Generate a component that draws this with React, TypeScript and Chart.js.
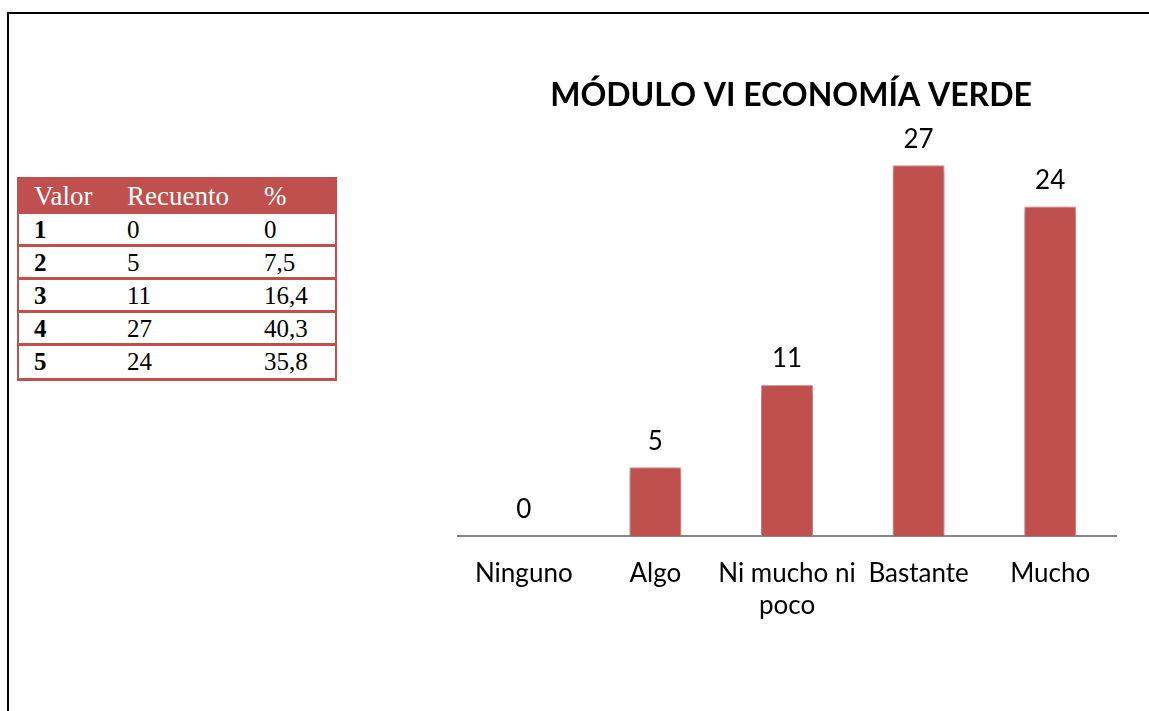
import React, { useEffect, useRef } from "react";
import { Chart, registerables } from "chart.js";

Chart.register(...registerables);

const chartTitle = "MÓDULO VI ECONOMÍA VERDE";
const categories: (string | string[])[] = ["Ninguno", "Algo", ["Ni mucho ni", "poco"], "Bastante", "Mucho"];
const counts = [0, 5, 11, 27, 24];

const tableHeader = ["Valor", "Recuento", "%"];
const tableValues = ["1", "2", "3", "4", "5"];
const tableCounts = ["0", "5", "11", "27", "24"];
const tablePercents = ["0", "7,5", "16,4", "40,3", "35,8"];

const RED = "#C0504D";
const CHART_FONT = "Lato";

const shadowPlugin = {
  id: "barShadow",
  beforeDatasetsDraw(chart: any) {
    const ctx = chart.ctx;
    ctx.save();
    ctx.shadowColor = "rgba(0,0,0,0.45)";
    ctx.shadowBlur = 9;
    ctx.shadowOffsetX = 0;
    ctx.shadowOffsetY = 3;
  },
  afterDatasetsDraw(chart: any) {
    chart.ctx.restore();
  },
};

const labelPlugin = {
  id: "valueLabels",
  afterDraw(chart: any) {
    const ctx = chart.ctx;
    const meta = chart.getDatasetMeta(0);
    ctx.save();
    ctx.fillStyle = "#000";
    ctx.font = `26px ${CHART_FONT}`;
    ctx.textAlign = "center";
    ctx.textBaseline = "middle";
    meta.data.forEach((bar: any, i: number) => {
      const v = chart.data.datasets[0].data[i];
      ctx.fillText(String(v), bar.x, bar.y - 26);
    });
    const area = chart.chartArea;
    ctx.font = `bold 32px ${CHART_FONT}`;
    ctx.textBaseline = "alphabetic";
    ctx.fillText(chartTitle, (area.left + area.right) / 2 + 4, 106);
    ctx.restore();
  },
};

function BarChart() {
  const ref = useRef<HTMLCanvasElement | null>(null);
  useEffect(() => {
    if (!ref.current) return;
    const chart = new Chart(ref.current, {
      type: "bar",
      data: {
        labels: categories as any,
        datasets: [
          {
            data: counts,
            backgroundColor: RED,
            borderColor: "#E3A8A6",
            borderWidth: 1,
            barPercentage: 0.395,
            categoryPercentage: 1,
          },
        ],
      },
      options: {
        animation: false,
        responsive: false,
        maintainAspectRatio: false,
        layout: { padding: { left: 18, right: 33, top: 124, bottom: 0 } },
        plugins: {
          legend: { display: false },
          tooltip: { enabled: false },
          title: { display: false },
        },
        scales: {
          x: {
            grid: { display: false },
            border: { display: true, color: "#868686", width: 2 },
            ticks: {
              color: "#000",
              font: { family: CHART_FONT, size: 26, lineHeight: 1.24 },
              padding: 13,
              maxRotation: 0,
              autoSkip: false,
            },
            afterFit(scale: any) {
              scale.height = 175;
            },
          },
          y: { display: false, min: 0, max: 30 },
        },
      },
      plugins: [shadowPlugin, labelPlugin],
    });
    return () => chart.destroy();
  }, []);
  return (
    <canvas
      ref={ref}
      width={709}
      height={711}
      style={{ position: "absolute", left: 440, top: 0, width: 709, height: 711 }}
    />
  );
}

export default function App() {
  const serif = "'Liberation Serif', 'Times New Roman', serif";
  const colLeft = [15, 108, 245];
  const rowH = [30, 30, 30, 30, 32];
  return (
    <div style={{ position: "absolute", left: 0, top: 0, width: 1149, height: 711, overflow: "hidden", background: "#fff" }}>
      <div
        style={{
          position: "absolute",
          left: 7,
          top: 12,
          width: 1160,
          height: 720,
          borderTop: "2px solid #000",
          borderLeft: "2px solid #000",
          boxSizing: "border-box",
        }}
      />
      <div
        style={{
          position: "absolute",
          left: 17,
          top: 177,
          width: 320,
          boxSizing: "border-box",
          borderLeft: `2px solid ${RED}`,
          borderRight: `2px solid ${RED}`,
          fontFamily: serif,
        }}
      >
        <div style={{ position: "relative", height: 37, background: RED, color: "#fff", fontSize: 27 }}>
          {tableHeader.map((h, i) => (
            <span key={h} style={{ position: "absolute", left: colLeft[i], top: 2, lineHeight: "34px" }}>
              {h}
            </span>
          ))}
        </div>
        {tableValues.map((v, r) => (
          <div
            key={v}
            style={{
              position: "relative",
              height: rowH[r],
              borderBottom: `3px solid ${RED}`,
              color: "#000",
              fontSize: 25,
            }}
          >
            {[v, tableCounts[r], tablePercents[r]].map((t, i) => (
              <span
                key={i}
                style={{
                  position: "absolute",
                  left: colLeft[i],
                  top: 1,
                  lineHeight: "30px",
                  fontWeight: i === 0 ? "bold" : "normal",
                }}
              >
                {t}
              </span>
            ))}
          </div>
        ))}
      </div>
      <BarChart />
    </div>
  );
}
